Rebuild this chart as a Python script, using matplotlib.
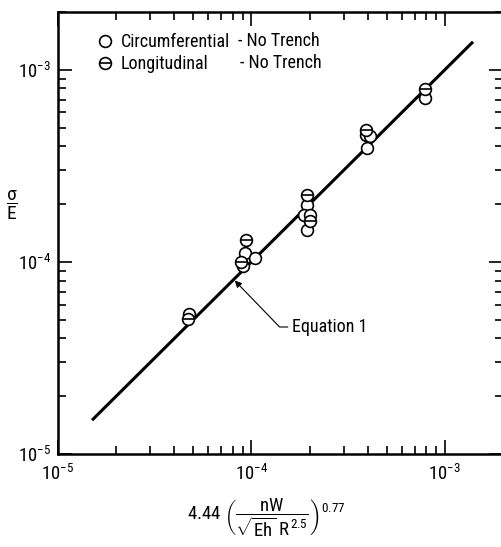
import matplotlib
matplotlib.use("Agg")
import matplotlib.pyplot as plt
from matplotlib.lines import Line2D
from matplotlib import font_manager

# --- data ------------------------------------------------------------------
circ_x = [4.77e-5, 9.3e-5, 1.04e-4, 9.1e-5, 1.93e-4, 1.86e-4, 2.0e-4, 1.95e-4,
          3.9e-4, 4.1e-4, 3.95e-4, 7.9e-4]
circ_y = [5.35e-5, 1.11e-4, 1.05e-4, 9.5e-5, 1.98e-4, 1.76e-4, 1.76e-4, 1.47e-4,
          4.6e-4, 4.55e-4, 3.93e-4, 7.15e-4]
long_x = [4.7e-5, 9.4e-5, 8.8e-5, 1.93e-4, 2.0e-4, 3.9e-4, 7.9e-4]
long_y = [5.05e-5, 1.30e-4, 1.0e-4, 2.23e-4, 1.64e-4, 4.87e-4, 7.96e-4]
eq_x = [1.5e-5, 1.4e-3]   # Equation 1 line
eq_y = [1.5e-5, 1.4e-3]
ann_xy = (8.2e-5, 8.0e-5)
ticks = [1e-5, 1e-4, 1e-3]
tick_labels = [r'$10^{-5}$', r'$10^{-4}$', r'$10^{-3}$']

# narrow sans if there is one
names = {f.name for f in font_manager.fontManager.ttflist}
fam = [f for f in ['Liberation Sans Narrow', 'DejaVu Sans Condensed', 'Roboto Condensed',
                   'Roboto', 'DejaVu Sans'] if f in names][:1] + ['DejaVu Sans']
plt.rcParams['font.family'] = fam
plt.rcParams['mathtext.fontset'] = 'custom'
plt.rcParams['mathtext.rm'] = fam[0]
plt.rcParams['mathtext.it'] = fam[0]
plt.rcParams['mathtext.bf'] = fam[0]

fig = plt.figure(figsize=(5.01, 5.47), dpi=100)
ax = fig.add_axes([58 / 501, 1 - 454 / 547, 445 / 501, 442 / 547])
ax.set_xscale('log')
ax.set_yscale('log')
ax.set_xlim(1e-5, 2e-3)
ax.set_ylim(1e-5, 2e-3)

ax.plot(eq_x, eq_y, color='black', lw=2.2, solid_capstyle='butt')
mk = dict(ls='none', ms=8.5, mfc='white', mec='black', mew=1.2)
ax.plot(circ_x, circ_y, marker='o', **mk)
ax.plot(long_x, long_y, marker='o', **mk)
ax.plot(long_x, long_y, ls='none', marker='_', ms=8.5, mec='black', mew=1.2)

ax.annotate('Equation 1', xy=ann_xy, xytext=(292, 547 - 327), textcoords='figure pixels',
            fontsize=13, va='center', ha='left',
            arrowprops=dict(arrowstyle='-|>', color='black', lw=0.8, mutation_scale=10,
                            shrinkA=1, shrinkB=0,
                            connectionstyle='angle,angleA=0,angleB=-46,rad=0'))

for s in ax.spines.values():
    s.set_linewidth(1.8)
ax.tick_params(which='both', direction='in', top=True, right=True, width=1.2,
               labelsize=13.5)
ax.tick_params(which='major', length=10, pad=7)
ax.tick_params(which='minor', length=6)
ax.tick_params(axis='y', pad=5)

ax.set_xticks(ticks)
ax.set_yticks(ticks)
ax.set_xticklabels(tick_labels)
ax.set_yticklabels(tick_labels)

h_circ = Line2D([], [], marker='o', **mk)
h_long = (Line2D([], [], marker='o', **mk),
          Line2D([], [], ls='none', marker='_', ms=8.5, mec='black', mew=1.2))
ax.legend([h_circ, h_long], ['Circumferential', 'Longitudinal'],
          loc='upper left', bbox_to_anchor=(0.068, 0.968), frameon=False,
          handlelength=1.0, handletextpad=0.4, labelspacing=0.22, fontsize=13,
          borderaxespad=0)
ax.text(0.404, 0.934, '- No Trench', transform=ax.transAxes, fontsize=13, va='center')
ax.text(0.408, 0.884, '- No Trench', transform=ax.transAxes, fontsize=13, va='center')

ax.text(-0.103, 0.563, r'$\dfrac{\sigma}{E}$', transform=ax.transAxes, fontsize=14,
        ha='center', va='center')
ax.text(0.467, -0.145, r'$4.44\ \left(\dfrac{nW}{\sqrt{Eh}\ R^{2.5}}\right)^{0.77}$',
        transform=ax.transAxes, fontsize=13.5, ha='center', va='center')

fig.savefig('out.png', dpi=100)
